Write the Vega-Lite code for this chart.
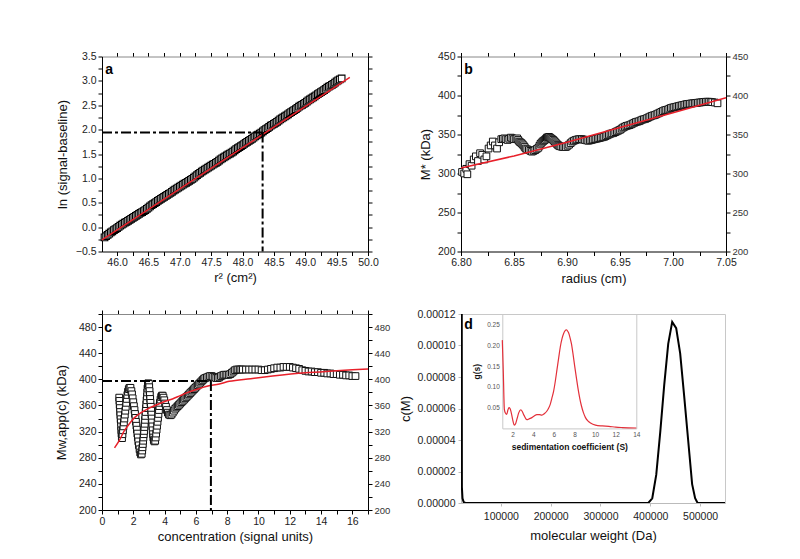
{
  "$schema": "https://vega.github.io/schema/vega-lite/v6.json",
  "background": "white",
  "padding": {"left": 55, "top": 51.5, "right": 5, "bottom": 5},
  "config": {
    "font": "Liberation Sans",
    "view": {"stroke": null},
    "axis": {"labelFontSize": 10.5, "labelColor": "#222", "titleFontSize": 13, "titleFontWeight": "normal", "titleColor": "#111", "domainColor": "#000", "tickColor": "#000", "tickSize": 4, "labelPadding": 2, "grid": false, "labelFlush": false, "labelOverlap": false}
  },
  "columns": 2,
  "spacing": {"row": 62.5, "column": 93},
  "bounds": "flush",
  "concat": [
    {
      "width": 266, "height": 195,
      "layer": [
        {"data": {"name": "a_pts"}, "mark": {"type": "point", "shape": "square", "filled": true, "fill": "white", "stroke": "#000", "strokeWidth": 1.1, "size": 44, "opacity": 1},
         "encoding": {
           "x": {"field": "x", "type": "quantitative", "scale": {"domain": [45.76, 50], "nice": false, "zero": false}, "axis": {"orient": "bottom", "values": [46,46.25,46.5,46.75,47,47.25,47.5,47.75,48,48.25,48.5,48.75,49,49.25,49.5,49.75,50], "format": ".1f", "labelExpr": "round(datum.value*4)%2==0 ? datum.label : ''", "title": "r² (cm²)", "titlePadding": 3}},
           "y": {"field": "y", "type": "quantitative", "scale": {"domain": [-0.5, 3.5], "nice": false, "zero": false}, "axis": {"orient": "left", "values": [-0.5,-0.25,0,0.25,0.5,0.75,1,1.25,1.5,1.75,2,2.25,2.5,2.75,3,3.25,3.5], "format": ".1f", "labelExpr": "round(datum.value*4)%2==0 ? datum.label : ''", "title": "ln (signal-baseline)", "titlePadding": 6}}
         }},
        {"data": {"name": "a_fit"}, "mark": {"type": "line", "color": "#e8202a", "strokeWidth": 1.5},
         "encoding": {
           "x": {"field": "x", "type": "quantitative", "scale": {"domain": [45.76, 50], "nice": false, "zero": false}, "axis": {"orient": "top", "values": [46,46.25,46.5,46.75,47,47.25,47.5,47.75,48,48.25,48.5,48.75,49,49.25,49.5,49.75,50], "labels": false, "title": null, "domainColor": "#888"}},
           "y": {"field": "y", "type": "quantitative", "scale": {"domain": [-0.5, 3.5], "nice": false, "zero": false}, "axis": {"orient": "right", "values": [-0.5,-0.25,0,0.25,0.5,0.75,1,1.25,1.5,1.75,2,2.25,2.5,2.75,3,3.25,3.5], "labels": false, "title": null}}
         }},
        {"data": {"name": "a_h"}, "mark": {"type": "rule", "color": "#000", "strokeWidth": 2, "strokeDash": [10, 3, 3, 3]},
         "encoding": {
           "x": {"field": "x", "type": "quantitative", "scale": {"domain": [45.76, 50], "nice": false, "zero": false}, "axis": null},
           "x2": {"field": "x2"},
           "y": {"field": "y", "type": "quantitative", "scale": {"domain": [-0.5, 3.5], "nice": false, "zero": false}, "axis": null}
         }},
        {"data": {"name": "a_v"}, "mark": {"type": "rule", "color": "#000", "strokeWidth": 2, "strokeDash": [10, 3, 3, 3]},
         "encoding": {
           "x": {"field": "x", "type": "quantitative", "scale": {"domain": [45.76, 50], "nice": false, "zero": false}, "axis": null},
           "y": {"field": "y", "type": "quantitative", "scale": {"domain": [-0.5, 3.5], "nice": false, "zero": false}, "axis": null},
           "y2": {"field": "y2"}
         }},
        {"data": {"name": "a_lab"}, "mark": {"type": "text", "fontWeight": "bold", "fontSize": 14, "align": "left", "baseline": "alphabetic", "color": "#000"},
         "encoding": {
           "x": {"field": "x", "type": "quantitative", "scale": {"domain": [45.76, 50], "nice": false, "zero": false}, "axis": null},
           "y": {"field": "y", "type": "quantitative", "scale": {"domain": [-0.5, 3.5], "nice": false, "zero": false}, "axis": null},
           "text": {"field": "t"}
         }}
      ],
      "resolve": {"axis": {"x": "independent", "y": "independent"}}
    },
    {
      "width": 265, "height": 195,
      "layer": [
        {"data": {"name": "b_pts"}, "mark": {"type": "point", "shape": "square", "filled": true, "fill": "white", "stroke": "#111", "strokeWidth": 1, "size": 45, "opacity": 1},
         "encoding": {
           "x": {"field": "x", "type": "quantitative", "scale": {"domain": [6.8, 7.05], "nice": false, "zero": false}, "axis": {"orient": "bottom", "values": [6.8,6.825,6.85,6.875,6.9,6.925,6.95,6.975,7.0,7.025,7.05], "format": ".2f", "labelExpr": "round(datum.value*40)%2==0 ? datum.label : ''", "title": "radius (cm)", "titlePadding": 4}},
           "y": {"field": "y", "type": "quantitative", "scale": {"domain": [200, 450], "nice": false, "zero": false}, "axis": {"orient": "left", "values": [200,225,250,275,300,325,350,375,400,425,450], "format": "d", "labelExpr": "round(datum.value/25)%2==0 ? datum.label : ''", "title": "M* (kDa)", "titlePadding": 5}}
         }},
        {"data": {"name": "b_fit"}, "mark": {"type": "line", "color": "#e8202a", "strokeWidth": 1.5},
         "encoding": {
           "x": {"field": "x", "type": "quantitative", "scale": {"domain": [6.8, 7.05], "nice": false, "zero": false}, "axis": {"orient": "top", "values": [6.8,6.825,6.85,6.875,6.9,6.925,6.95,6.975,7.0,7.025,7.05], "labels": false, "title": null, "domainColor": "#888"}},
           "y": {"field": "y", "type": "quantitative", "scale": {"domain": [200, 450], "nice": false, "zero": false}, "axis": {"orient": "right", "values": [200,225,250,275,300,325,350,375,400,425,450], "format": "d", "labelExpr": "round(datum.value/25)%2==0 ? datum.label : ''", "labelFontSize": 9.5, "labelColor": "#333", "title": null}}
         }},
        {"data": {"name": "b_lab"}, "mark": {"type": "text", "fontWeight": "bold", "fontSize": 14, "align": "left", "baseline": "alphabetic", "color": "#000"},
         "encoding": {
           "x": {"field": "x", "type": "quantitative", "scale": {"domain": [6.8, 7.05], "nice": false, "zero": false}, "axis": null},
           "y": {"field": "y", "type": "quantitative", "scale": {"domain": [200, 450], "nice": false, "zero": false}, "axis": null},
           "text": {"field": "t"}
         }}
      ],
      "resolve": {"axis": {"x": "independent", "y": "independent"}}
    },
    {
      "width": 266, "height": 196,
      "layer": [
        {"data": {"name": "c_pts"}, "mark": {"type": "point", "shape": "square", "filled": true, "fill": "white", "stroke": "#111", "strokeWidth": 1, "size": 45, "opacity": 1},
         "encoding": {
           "x": {"field": "x", "type": "quantitative", "scale": {"domain": [0, 17], "nice": false, "zero": false}, "axis": {"orient": "bottom", "values": [0,1,2,3,4,5,6,7,8,9,10,11,12,13,14,15,16,17], "format": "d", "labelExpr": "datum.value%2==0 ? datum.label : ''", "title": "concentration (signal units)", "titlePadding": 4}},
           "y": {"field": "y", "type": "quantitative", "scale": {"domain": [200, 500], "nice": false, "zero": false}, "axis": {"orient": "left", "values": [200,220,240,260,280,300,320,340,360,380,400,420,440,460,480,500], "format": "d", "labelExpr": "(datum.value-200)%40==0 ? datum.label : ''", "title": "Mw,app(c) (kDa)", "titlePadding": 10}}
         }},
        {"data": {"name": "c_fit"}, "mark": {"type": "line", "color": "#e8202a", "strokeWidth": 1.5, "interpolate": "monotone"},
         "encoding": {
           "x": {"field": "x", "type": "quantitative", "scale": {"domain": [0, 17], "nice": false, "zero": false}, "axis": {"orient": "top", "values": [0,1,2,3,4,5,6,7,8,9,10,11,12,13,14,15,16,17], "labels": false, "title": null, "domainColor": "#888"}},
           "y": {"field": "y", "type": "quantitative", "scale": {"domain": [200, 500], "nice": false, "zero": false}, "axis": {"orient": "right", "values": [200,220,240,260,280,300,320,340,360,380,400,420,440,460,480,500], "format": "d", "labelExpr": "(datum.value-200)%40==0 ? datum.label : ''", "labelFontSize": 9.5, "labelColor": "#333", "title": null}}
         }},
        {"data": {"name": "c_h"}, "mark": {"type": "rule", "color": "#000", "strokeWidth": 2, "strokeDash": [10, 3, 3, 3]},
         "encoding": {
           "x": {"field": "x", "type": "quantitative", "scale": {"domain": [0, 17], "nice": false, "zero": false}, "axis": null},
           "x2": {"field": "x2"},
           "y": {"field": "y", "type": "quantitative", "scale": {"domain": [200, 500], "nice": false, "zero": false}, "axis": null}
         }},
        {"data": {"name": "c_v"}, "mark": {"type": "rule", "color": "#000", "strokeWidth": 2, "strokeDash": [10, 3, 3, 3]},
         "encoding": {
           "x": {"field": "x", "type": "quantitative", "scale": {"domain": [0, 17], "nice": false, "zero": false}, "axis": null},
           "y": {"field": "y", "type": "quantitative", "scale": {"domain": [200, 500], "nice": false, "zero": false}, "axis": null},
           "y2": {"field": "y2"}
         }},
        {"data": {"name": "c_lab"}, "mark": {"type": "text", "fontWeight": "bold", "fontSize": 14, "align": "left", "baseline": "alphabetic", "color": "#000"},
         "encoding": {
           "x": {"field": "x", "type": "quantitative", "scale": {"domain": [0, 17], "nice": false, "zero": false}, "axis": null},
           "y": {"field": "y", "type": "quantitative", "scale": {"domain": [200, 500], "nice": false, "zero": false}, "axis": null},
           "text": {"field": "t"}
         }}
      ],
      "resolve": {"axis": {"x": "independent", "y": "independent"}}
    },
    {
      "width": 264, "height": 189,
      "view": {"stroke": "#c8c8c8", "strokeWidth": 1},
      "layer": [
        {"data": {"name": "d_main"}, "mark": {"type": "line", "color": "#000", "strokeWidth": 2, "clip": true},
         "encoding": {
           "x": {"field": "x", "type": "quantitative", "scale": {"domain": [20000, 550000], "nice": false, "zero": false}, "axis": {"orient": "bottom", "values": [100000,200000,300000,400000,500000], "format": "d", "title": "molecular weight (Da)", "domainColor": "#bbb", "tickColor": "#bbb", "tickSize": 3, "labelPadding": 5, "titlePadding": 8}},
           "y": {"field": "y", "type": "quantitative", "scale": {"domain": [0, 0.00012], "nice": false, "zero": false}, "axis": {"orient": "left", "values": [0,0.00002,0.00004,0.00006,0.00008,0.0001,0.00012], "format": ".5f", "title": "c(M)", "domainColor": "#bbb", "tickColor": "#bbb", "tickSize": 3, "labelPadding": 3, "titlePadding": 5}}
         }},
        {"data": {"name": "d_lab"}, "mark": {"type": "text", "fontWeight": "bold", "fontSize": 14, "align": "left", "baseline": "alphabetic", "color": "#000"},
         "encoding": {
           "x": {"field": "x", "type": "quantitative", "scale": {"domain": [20000, 550000], "nice": false, "zero": false}, "axis": null},
           "y": {"field": "y", "type": "quantitative", "scale": {"domain": [0, 0.00012], "nice": false, "zero": false}, "axis": null},
           "text": {"field": "t"}
         }},
        {"data": {"name": "d_inset"}, "mark": {"type": "line", "color": "#e3303a", "strokeWidth": 1.2, "interpolate": "monotone"},
         "encoding": {
           "x": {"field": "s", "type": "quantitative", "scale": {"domain": [1, 14], "range": [41.3, 175.3], "nice": false, "zero": false}, "axis": {"orient": "bottom", "offset": -74.6, "values": [2,4,6,8,10,12,14], "format": "d", "labelFontSize": 6.5, "labelColor": "#555", "ticks": false, "domainColor": "#c8c8c8", "labelPadding": 3, "title": "sedimentation coefficient (S)", "titleFontSize": 8.5, "titleFontWeight": "bold", "titlePadding": 5}},
           "y": {"field": "g", "type": "quantitative", "scale": {"domain": [0, 0.276], "range": [114.4, 0], "nice": false, "zero": false}, "axis": {"orient": "left", "offset": -41.3, "values": [0.05,0.1,0.15,0.2,0.25], "format": ".2f", "labelFontSize": 6.5, "labelColor": "#555", "ticks": false, "domainColor": "#c8c8c8", "labelPadding": 3, "title": "g(s)", "titleFontSize": 8.5, "titleFontWeight": "bold", "titlePadding": 5}}
         }},
        {"data": {"name": "d_inset"}, "mark": {"type": "line", "strokeOpacity": 0},
         "encoding": {
           "x": {"field": "s", "type": "quantitative", "scale": {"domain": [1, 14], "range": [41.3, 175.3], "nice": false, "zero": false}, "axis": {"orient": "top", "offset": 0, "labels": false, "ticks": false, "domainColor": "#c8c8c8", "title": null}},
           "y": {"field": "g", "type": "quantitative", "scale": {"domain": [0, 0.276], "range": [114.4, 0], "nice": false, "zero": false}, "axis": {"orient": "right", "offset": -88.7, "labels": false, "ticks": false, "domainColor": "#c8c8c8", "title": null}}
         }}
      ],
      "resolve": {"scale": {"x": "independent", "y": "independent"}, "axis": {"x": "independent", "y": "independent"}}
    }
  ],
  "datasets": {
    "a_pts": [
      {"x":45.800,"y":-0.21},{"x":45.825,"y":-0.185},{"x":45.850,"y":-0.16},{"x":45.875,"y":-0.135},{"x":45.900,"y":-0.11},{"x":45.925,"y":-0.085},{"x":45.950,"y":-0.06},{"x":45.975,"y":-0.04},{"x":46.000,"y":-0.02},{"x":46.025,"y":0.005},{"x":46.050,"y":0.03},{"x":46.075,"y":0.05},{"x":46.100,"y":0.07},{"x":46.125,"y":0.09},{"x":46.150,"y":0.11},{"x":46.175,"y":0.13},{"x":46.200,"y":0.15},{"x":46.225,"y":0.17},{"x":46.250,"y":0.19},{"x":46.275,"y":0.21},{"x":46.300,"y":0.23},{"x":46.325,"y":0.25},{"x":46.350,"y":0.27},{"x":46.375,"y":0.29},{"x":46.400,"y":0.31},{"x":46.425,"y":0.33},{"x":46.450,"y":0.35},{"x":46.475,"y":0.375},{"x":46.500,"y":0.40},{"x":46.525,"y":0.425},{"x":46.550,"y":0.45},{"x":46.575,"y":0.47},{"x":46.600,"y":0.49},{"x":46.625,"y":0.515},{"x":46.650,"y":0.54},{"x":46.675,"y":0.56},{"x":46.700,"y":0.58},{"x":46.725,"y":0.60},{"x":46.750,"y":0.62},{"x":46.775,"y":0.64},{"x":46.800,"y":0.66},{"x":46.825,"y":0.68},{"x":46.850,"y":0.70},{"x":46.875,"y":0.725},{"x":46.900,"y":0.75},{"x":46.925,"y":0.77},{"x":46.950,"y":0.79},{"x":46.975,"y":0.81},{"x":47.000,"y":0.83},{"x":47.025,"y":0.85},{"x":47.050,"y":0.87},{"x":47.075,"y":0.89},{"x":47.100,"y":0.91},{"x":47.125,"y":0.93},{"x":47.150,"y":0.95},{"x":47.175,"y":0.97},{"x":47.200,"y":0.99},{"x":47.225,"y":1.015},{"x":47.250,"y":1.04},{"x":47.275,"y":1.065},{"x":47.300,"y":1.09},{"x":47.325,"y":1.115},{"x":47.350,"y":1.14},{"x":47.375,"y":1.16},{"x":47.400,"y":1.18},{"x":47.425,"y":1.20},{"x":47.450,"y":1.22},{"x":47.475,"y":1.24},{"x":47.500,"y":1.26},{"x":47.525,"y":1.28},{"x":47.550,"y":1.30},{"x":47.575,"y":1.32},{"x":47.600,"y":1.34},{"x":47.625,"y":1.365},{"x":47.650,"y":1.39},{"x":47.675,"y":1.41},{"x":47.700,"y":1.43},{"x":47.725,"y":1.45},{"x":47.750,"y":1.47},{"x":47.775,"y":1.49},{"x":47.800,"y":1.51},{"x":47.825,"y":1.53},{"x":47.850,"y":1.55},{"x":47.875,"y":1.575},{"x":47.900,"y":1.60},{"x":47.925,"y":1.62},{"x":47.950,"y":1.64},{"x":47.975,"y":1.66},{"x":48.000,"y":1.68},{"x":48.025,"y":1.705},{"x":48.050,"y":1.73},{"x":48.075,"y":1.75},{"x":48.100,"y":1.77},{"x":48.125,"y":1.79},{"x":48.150,"y":1.81},{"x":48.175,"y":1.835},{"x":48.200,"y":1.86},{"x":48.225,"y":1.88},{"x":48.250,"y":1.90},{"x":48.275,"y":1.92},{"x":48.300,"y":1.94},{"x":48.325,"y":1.965},{"x":48.350,"y":1.99},{"x":48.375,"y":2.01},{"x":48.400,"y":2.03},{"x":48.425,"y":2.055},{"x":48.450,"y":2.08},{"x":48.475,"y":2.10},{"x":48.500,"y":2.12},{"x":48.525,"y":2.14},{"x":48.550,"y":2.16},{"x":48.575,"y":2.185},{"x":48.600,"y":2.21},{"x":48.625,"y":2.23},{"x":48.650,"y":2.25},{"x":48.675,"y":2.27},{"x":48.700,"y":2.29},{"x":48.725,"y":2.315},{"x":48.750,"y":2.34},{"x":48.775,"y":2.36},{"x":48.800,"y":2.38},{"x":48.825,"y":2.40},{"x":48.850,"y":2.42},{"x":48.875,"y":2.445},{"x":48.900,"y":2.47},{"x":48.925,"y":2.49},{"x":48.950,"y":2.51},{"x":48.975,"y":2.53},{"x":49.000,"y":2.55},{"x":49.025,"y":2.575},{"x":49.050,"y":2.60},{"x":49.075,"y":2.62},{"x":49.100,"y":2.64},{"x":49.125,"y":2.66},{"x":49.150,"y":2.68},{"x":49.175,"y":2.705},{"x":49.200,"y":2.73},{"x":49.225,"y":2.75},{"x":49.250,"y":2.77},{"x":49.275,"y":2.79},{"x":49.300,"y":2.81},{"x":49.325,"y":2.835},{"x":49.350,"y":2.86},{"x":49.375,"y":2.88},{"x":49.400,"y":2.90},{"x":49.425,"y":2.92},{"x":49.450,"y":2.94},{"x":49.475,"y":2.965},{"x":49.500,"y":2.99},{"x":49.525,"y":3.01},{"x":49.550,"y":3.03},{"x":49.580,"y":3.05}
    ],
    "a_fit": [{"x":45.76,"y":-0.26},{"x":49.71,"y":3.07}],
    "a_h": [{"x":45.76,"x2":48.32,"y":1.94}],
    "a_v": [{"x":48.32,"y":1.94,"y2":-0.5}],
    "a_lab": [{"x":45.81,"y":3.15,"t":"a"}],
    "b_pts": [
      {"x":6.801,"y":302},{"x":6.803,"y":300},{"x":6.805,"y":306},{"x":6.806,"y":299},{"x":6.808,"y":312},{"x":6.810,"y":310},{"x":6.812,"y":318},{"x":6.814,"y":322},{"x":6.816,"y":316},{"x":6.818,"y":326},{"x":6.820,"y":324},{"x":6.822,"y":318},{"x":6.824,"y":322},{"x":6.826,"y":332},{"x":6.828,"y":336},{"x":6.830,"y":341},{"x":6.832,"y":336},{"x":6.834,"y":332},{"x":6.836,"y":340},
      {"x":6.838,"y":344},{"x":6.8395,"y":344.5},{"x":6.841,"y":345},{"x":6.8425,"y":344},{"x":6.844,"y":343},{"x":6.8455,"y":344.5},{"x":6.847,"y":346},{"x":6.8485,"y":345},{"x":6.850,"y":344},{"x":6.8515,"y":344.5},{"x":6.853,"y":345},{"x":6.854,"y":343},{"x":6.855,"y":341},{"x":6.856,"y":340},{"x":6.857,"y":339},{"x":6.858,"y":337.5},{"x":6.859,"y":336},{"x":6.860,"y":334},{"x":6.861,"y":332},{"x":6.8625,"y":331},{"x":6.864,"y":330},{"x":6.8655,"y":329},{"x":6.867,"y":328},{"x":6.8685,"y":329},{"x":6.870,"y":330},{"x":6.8715,"y":331.5},{"x":6.873,"y":333},{"x":6.874,"y":335.5},{"x":6.875,"y":338},{"x":6.876,"y":339.5},{"x":6.877,"y":341},{"x":6.878,"y":342},{"x":6.879,"y":343},{"x":6.880,"y":344.5},{"x":6.881,"y":346},{"x":6.882,"y":346.5},{"x":6.883,"y":347},{"x":6.884,"y":346},{"x":6.885,"y":345},{"x":6.886,"y":344},{"x":6.887,"y":343},{"x":6.888,"y":341.5},{"x":6.889,"y":340},{"x":6.890,"y":338.5},{"x":6.891,"y":337},{"x":6.892,"y":336},{"x":6.893,"y":335},{"x":6.8945,"y":334.5},
      {"x":6.896,"y":334},{"x":6.8975,"y":334},{"x":6.899,"y":334},{"x":6.9005,"y":335.5},{"x":6.902,"y":337},{"x":6.9035,"y":339},{"x":6.905,"y":341},{"x":6.9065,"y":342},{"x":6.908,"y":343},{"x":6.9095,"y":343.5},{"x":6.911,"y":344},{"x":6.9125,"y":344},{"x":6.914,"y":344},{"x":6.9155,"y":343.5},{"x":6.917,"y":343},{"x":6.9185,"y":342.5},{"x":6.920,"y":342},{"x":6.9215,"y":342.5},{"x":6.923,"y":343},{"x":6.9245,"y":343.5},{"x":6.926,"y":344},{"x":6.9275,"y":344.5},{"x":6.929,"y":345},{"x":6.9305,"y":345.5},{"x":6.932,"y":346},{"x":6.9335,"y":346.5},{"x":6.935,"y":347},{"x":6.9365,"y":348},{"x":6.938,"y":349},{"x":6.9395,"y":350},{"x":6.941,"y":351},{"x":6.9425,"y":351.5},{"x":6.944,"y":352},{"x":6.9455,"y":353},{"x":6.947,"y":354},{"x":6.9485,"y":355},{"x":6.950,"y":356},{"x":6.9515,"y":357.5},{"x":6.953,"y":359},{"x":6.9545,"y":360},{"x":6.956,"y":361},{"x":6.9575,"y":361.5},{"x":6.959,"y":362},{"x":6.9605,"y":363},{"x":6.962,"y":364},{"x":6.9635,"y":365},{"x":6.965,"y":366},{"x":6.9665,"y":366.5},{"x":6.968,"y":367},{"x":6.9695,"y":368},{"x":6.971,"y":369},{"x":6.9725,"y":369.5},{"x":6.974,"y":370},{"x":6.9755,"y":371},{"x":6.977,"y":372},{"x":6.9785,"y":373},{"x":6.980,"y":374},{"x":6.9815,"y":374.5},{"x":6.983,"y":375},{"x":6.9845,"y":376},{"x":6.986,"y":377},{"x":6.9875,"y":378},{"x":6.989,"y":379},{"x":6.9905,"y":380},{"x":6.992,"y":381},{"x":6.9935,"y":381.5},{"x":6.995,"y":382},{"x":6.9965,"y":383},{"x":6.998,"y":384},{"x":6.9995,"y":384.5},{"x":7.001,"y":385},{"x":7.0025,"y":385.5},{"x":7.004,"y":386},{"x":7.0055,"y":386.5},{"x":7.007,"y":387},{"x":7.0085,"y":387.5},{"x":7.010,"y":388},{"x":7.0115,"y":388.5},{"x":7.013,"y":389},{"x":7.0145,"y":389.2},{"x":7.016,"y":389.5},{"x":7.0175,"y":389.8},{"x":7.019,"y":390},{"x":7.0205,"y":390.2},{"x":7.022,"y":390.5},{"x":7.0235,"y":390.8},{"x":7.025,"y":391},{"x":7.0265,"y":391.2},{"x":7.028,"y":391.5},{"x":7.0295,"y":391.8},{"x":7.031,"y":392},{"x":7.0325,"y":392},{"x":7.034,"y":392},{"x":7.0355,"y":391.8},{"x":7.037,"y":391.5},{"x":7.0395,"y":391},{"x":7.042,"y":390}
    ],
    "b_fit": [{"x":6.80,"y":307},{"x":6.85,"y":322.5},{"x":6.90,"y":340},{"x":6.95,"y":359},{"x":7.00,"y":378},{"x":7.05,"y":397}],
    "b_lab": [{"x":6.803,"y":427,"t":"b"}],
    "c_pts": [
      {"x":1.10,"y":372},{"x":1.115,"y":367},{"x":1.13,"y":361},{"x":1.145,"y":356},{"x":1.16,"y":350},{"x":1.175,"y":345},{"x":1.19,"y":339},{"x":1.205,"y":334},{"x":1.22,"y":328},{"x":1.235,"y":322},{"x":1.25,"y":317},{"x":1.265,"y":312},{"x":1.28,"y":310},
      {"x":1.31,"y":316},{"x":1.34,"y":322},{"x":1.37,"y":328},{"x":1.40,"y":334},{"x":1.43,"y":340},{"x":1.46,"y":346},{"x":1.49,"y":352},{"x":1.52,"y":358},{"x":1.55,"y":364},{"x":1.58,"y":370},{"x":1.62,"y":376},{"x":1.66,"y":381},{"x":1.71,"y":385},{"x":1.76,"y":387},{"x":1.82,"y":387},
      {"x":1.88,"y":382},{"x":1.92,"y":377},{"x":1.96,"y":371},{"x":2.0,"y":365},{"x":2.04,"y":359},{"x":2.08,"y":353},{"x":2.11,"y":347},{"x":2.14,"y":341},{"x":2.17,"y":335},{"x":2.2,"y":329},{"x":2.23,"y":323},{"x":2.26,"y":317},{"x":2.29,"y":311},{"x":2.32,"y":305},{"x":2.36,"y":299},{"x":2.40,"y":293},{"x":2.44,"y":288},{"x":2.49,"y":285},{"x":2.54,"y":286},
      {"x":2.57,"y":291},{"x":2.59,"y":296},{"x":2.61,"y":301},{"x":2.63,"y":306},{"x":2.65,"y":311},{"x":2.67,"y":316},{"x":2.69,"y":321},{"x":2.71,"y":327},{"x":2.73,"y":332},{"x":2.75,"y":338},{"x":2.77,"y":344},{"x":2.79,"y":350},{"x":2.81,"y":356},{"x":2.83,"y":362},{"x":2.85,"y":368},{"x":2.87,"y":374},{"x":2.89,"y":380},{"x":2.91,"y":386},{"x":2.93,"y":391},{"x":2.96,"y":394},{"x":3.0,"y":393},
      {"x":3.02,"y":388},{"x":3.04,"y":382},{"x":3.06,"y":376},{"x":3.08,"y":370},{"x":3.10,"y":364},{"x":3.12,"y":358},{"x":3.14,"y":352},{"x":3.16,"y":346},{"x":3.18,"y":340},{"x":3.20,"y":334},{"x":3.22,"y":328},{"x":3.24,"y":322},{"x":3.26,"y":316},{"x":3.28,"y":311},{"x":3.31,"y":307},{"x":3.35,"y":305},{"x":3.40,"y":306},
      {"x":3.43,"y":311},{"x":3.46,"y":317},{"x":3.49,"y":323},{"x":3.52,"y":329},{"x":3.55,"y":335},{"x":3.58,"y":341},{"x":3.61,"y":347},{"x":3.64,"y":353},{"x":3.67,"y":359},{"x":3.70,"y":364},{"x":3.74,"y":369},{"x":3.78,"y":373},{"x":3.83,"y":375},{"x":3.88,"y":375},
      {"x":3.93,"y":372},{"x":3.98,"y":368},{"x":4.03,"y":363},{"x":4.09,"y":358},{"x":4.15,"y":353},{"x":4.21,"y":349},{"x":4.28,"y":346},{"x":4.36,"y":345},{"x":4.44,"y":346},
      {"x":4.52,"y":349},{"x":4.60,"y":352},{"x":4.68,"y":355},{"x":4.76,"y":357},{"x":4.84,"y":359},{"x":4.92,"y":361},{"x":5.0,"y":363},{"x":5.08,"y":365},{"x":5.16,"y":367},{"x":5.24,"y":369},{"x":5.32,"y":371},{"x":5.40,"y":373},{"x":5.48,"y":375},{"x":5.56,"y":377},{"x":5.64,"y":379},{"x":5.72,"y":381},{"x":5.80,"y":383},{"x":5.88,"y":385},{"x":5.96,"y":387},{"x":6.04,"y":389},{"x":6.12,"y":391},{"x":6.20,"y":393},{"x":6.28,"y":395},{"x":6.36,"y":397},{"x":6.44,"y":399},{"x":6.52,"y":401},{"x":6.60,"y":402},{"x":6.70,"y":403},{"x":6.80,"y":404},{"x":6.90,"y":405},{"x":7.0,"y":405},{"x":7.1,"y":404},{"x":7.2,"y":403},{"x":7.3,"y":402},{"x":7.4,"y":402},{"x":7.5,"y":403},{"x":7.6,"y":405},{"x":7.7,"y":406},{"x":7.8,"y":407},{"x":7.9,"y":407},{"x":8.0,"y":407},{"x":8.1,"y":407},{"x":8.2,"y":408},{"x":8.3,"y":410},{"x":8.4,"y":412},{"x":8.5,"y":414},{"x":8.6,"y":415},{"x":8.7,"y":415},{"x":8.8,"y":415},{"x":8.9,"y":415},{"x":9.0,"y":415},{"x":9.2,"y":415},{"x":9.4,"y":415},{"x":9.6,"y":415},{"x":9.8,"y":415},{"x":10.0,"y":415},{"x":10.2,"y":414},{"x":10.4,"y":414},{"x":10.6,"y":415},{"x":10.8,"y":416},{"x":11.0,"y":417},{"x":11.2,"y":418},{"x":11.4,"y":418},{"x":11.6,"y":419},{"x":11.8,"y":419},{"x":12.0,"y":419},{"x":12.2,"y":418},{"x":12.4,"y":417},{"x":12.6,"y":416},{"x":12.8,"y":414},{"x":13.0,"y":413},{"x":13.2,"y":412},{"x":13.4,"y":412},{"x":13.6,"y":411},{"x":13.8,"y":411},{"x":14.0,"y":410},{"x":14.2,"y":410},{"x":14.4,"y":409},{"x":14.6,"y":409},{"x":14.8,"y":408},{"x":15.0,"y":408},{"x":15.2,"y":407},{"x":15.4,"y":407},{"x":15.6,"y":406},{"x":15.8,"y":406},{"x":16.0,"y":405},{"x":16.2,"y":405}
    ],
    "c_fit": [{"x":0.8,"y":295},{"x":1.1,"y":306},{"x":1.42,"y":321},{"x":1.75,"y":332},{"x":2.06,"y":341},{"x":2.5,"y":349},{"x":3.02,"y":356},{"x":3.5,"y":361},{"x":4.0,"y":366},{"x":4.5,"y":370},{"x":5.0,"y":375},{"x":5.5,"y":380},{"x":6.0,"y":384},{"x":6.64,"y":389},{"x":7.5,"y":393},{"x":8.13,"y":397},{"x":9.5,"y":401},{"x":10.9,"y":405},{"x":13.0,"y":410},{"x":15.0,"y":413},{"x":17.0,"y":416}],
    "c_h": [{"x":0,"x2":6.96,"y":397.5}],
    "c_v": [{"x":6.96,"y":397.5,"y2":200}],
    "c_lab": [{"x":0.15,"y":473,"t":"c"}],
    "d_main": [{"x":21500,"y":0.00013},{"x":21800,"y":0.00001},{"x":23000,"y":0.000003},{"x":25500,"y":0.0000005},{"x":29000,"y":0},{"x":396000,"y":0},{"x":404000,"y":0.000003},{"x":412000,"y":0.000018},{"x":420000,"y":0.000045},{"x":428000,"y":0.000075},{"x":436000,"y":0.000101},{"x":444000,"y":0.000115},{"x":452000,"y":0.000111},{"x":460000,"y":0.000095},{"x":468000,"y":0.000068},{"x":476000,"y":0.00004},{"x":484000,"y":0.000012},{"x":490000,"y":0.000003},{"x":495000,"y":0},{"x":550000,"y":0}],
    "d_lab": [{"x":26600,"y":0.0001105,"t":"d"}],
    "d_inset": [{"s":1.0,"g":0.213},{"s":1.1,"g":0.133},{"s":1.2,"g":0.046},{"s":1.3,"g":0.037},{"s":1.43,"g":0.034},{"s":1.55,"g":0.045},{"s":1.65,"g":0.05},{"s":1.75,"g":0.048},{"s":1.85,"g":0.040},{"s":2.0,"g":0.022},{"s":2.17,"g":0.008},{"s":2.3,"g":0.012},{"s":2.45,"g":0.025},{"s":2.6,"g":0.038},{"s":2.8,"g":0.045},{"s":2.95,"g":0.040},{"s":3.1,"g":0.032},{"s":3.38,"g":0.021},{"s":3.6,"g":0.023},{"s":3.87,"g":0.026},{"s":4.1,"g":0.030},{"s":4.36,"g":0.033},{"s":4.6,"g":0.033},{"s":4.84,"g":0.032},{"s":5.1,"g":0.036},{"s":5.33,"g":0.042},{"s":5.5,"g":0.049},{"s":5.65,"g":0.058},{"s":5.8,"g":0.072},{"s":5.98,"g":0.09},{"s":6.15,"g":0.115},{"s":6.3,"g":0.141},{"s":6.47,"g":0.170},{"s":6.63,"g":0.197},{"s":6.8,"g":0.217},{"s":6.95,"g":0.229},{"s":7.1,"g":0.236},{"s":7.21,"g":0.238},{"s":7.33,"g":0.235},{"s":7.44,"g":0.230},{"s":7.58,"g":0.218},{"s":7.7,"g":0.205},{"s":7.87,"g":0.178},{"s":8.03,"g":0.149},{"s":8.2,"g":0.12},{"s":8.36,"g":0.094},{"s":8.52,"g":0.072},{"s":8.68,"g":0.054},{"s":8.87,"g":0.038},{"s":9.07,"g":0.026},{"s":9.3,"g":0.018},{"s":9.56,"g":0.013},{"s":10.04,"g":0.008},{"s":10.7,"g":0.006},{"s":11.34,"g":0.005},{"s":12.0,"g":0.003},{"s":12.65,"g":0.002},{"s":14.0,"g":0.001}]
  }
}
